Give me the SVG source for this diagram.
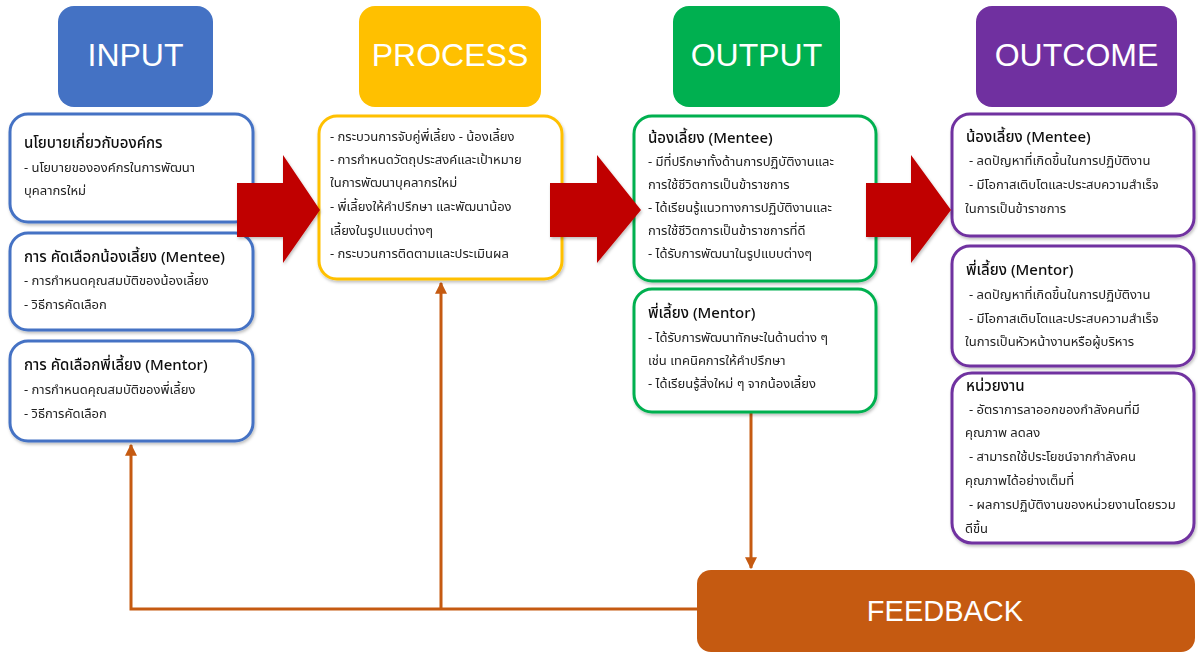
<svg xmlns="http://www.w3.org/2000/svg" width="1198" height="652" viewBox="0 0 1198 652">
<style>
.hdr{font-family:"Liberation Sans",Arial,sans-serif;font-size:32px;fill:#fff;text-anchor:middle}
.box{fill:#fff;stroke-width:3}
.t{font-family:"Noto Sans Thai","Tahoma","Noto Sans","DejaVu Sans",sans-serif;font-size:13px;fill:#222}
.h{font-family:"Noto Sans Thai","Tahoma","Noto Sans","DejaVu Sans",sans-serif;font-size:15px;fill:#111;font-weight:500}
.con{fill:none;stroke:#C55A11;stroke-width:3}
.red{fill:#C00000}
</style>
<defs>
<marker id="ah" viewBox="0 0 10 10" refX="9" refY="5" markerWidth="4" markerHeight="4" orient="auto" markerUnits="strokeWidth">
<path d="M0,0 L10,5 L0,10 Z" fill="#C55A11"/>
</marker>
<filter id="sh" x="-10%" y="-10%" width="120%" height="120%">
<feDropShadow dx="1" dy="2" stdDeviation="1.5" flood-color="#000" flood-opacity="0.25"/>
</filter>
</defs>

<g id="connectors">
<path class="con" d="M751,412 V568" marker-end="url(#ah)"/>
<path class="con" d="M697,609 H131 V445" marker-end="url(#ah)"/>
<path class="con" d="M441,609 V283" marker-end="url(#ah)"/>
</g>

<g id="hdr-input"><rect x="58" y="6" width="155" height="101" rx="16" fill="#4472C4"/><text class="hdr" x="135.5" y="66">INPUT</text></g>
<g id="hdr-process"><rect x="359" y="6" width="182" height="101" rx="16" fill="#FFC000"/><text class="hdr" x="450" y="66">PROCESS</text></g>
<g id="hdr-output"><rect x="673" y="6" width="167" height="101" rx="16" fill="#00B050"/><text class="hdr" x="756.5" y="66">OUTPUT</text></g>
<g id="hdr-outcome"><rect x="976" y="6" width="201" height="101" rx="16" fill="#7030A0"/><text class="hdr" x="1076.5" y="66">OUTCOME</text></g>

<g id="in-policy" filter="url(#sh)"><rect class="box" x="10" y="114" width="243" height="108" rx="18" stroke="#4472C4"/>
<text class="h" x="24" y="148">นโยบายเกี่ยวกับองค์กร</text>
<text class="t" x="24" y="172">- นโยบายขององค์กรในการพัฒนา</text>
<text class="t" x="24" y="195">บุคลากรใหม่</text></g>

<g id="in-mentee" filter="url(#sh)"><rect class="box" x="10" y="233" width="243" height="97" rx="18" stroke="#4472C4"/>
<text class="h" x="24" y="262">การ คัดเลือกน้องเลี้ยง (Mentee)</text>
<text class="t" x="24" y="285">- การกำหนดคุณสมบัติของน้องเลี้ยง</text>
<text class="t" x="24" y="309">- วิธีการคัดเลือก</text></g>

<g id="in-mentor" filter="url(#sh)"><rect class="box" x="10" y="341" width="243" height="100" rx="18" stroke="#4472C4"/>
<text class="h" x="24" y="370">การ คัดเลือกพี่เลี้ยง (Mentor)</text>
<text class="t" x="24" y="394">- การกำหนดคุณสมบัติของพี่เลี้ยง</text>
<text class="t" x="24" y="418">- วิธีการคัดเลือก</text></g>

<g id="process" filter="url(#sh)"><rect class="box" x="319" y="116" width="243" height="163" rx="18" stroke="#FFC000"/>
<text class="t" x="330" y="141">- กระบวนการจับคู่พี่เลี้ยง - น้องเลี้ยง</text>
<text class="t" x="330" y="164">- การกำหนดวัตถุประสงค์และเป้าหมาย</text>
<text class="t" x="330" y="187">ในการพัฒนาบุคลากรใหม่</text>
<text class="t" x="330" y="211">- พี่เลี้ยงให้คำปรึกษา และพัฒนาน้อง</text>
<text class="t" x="330" y="235">เลี้ยงในรูปแบบต่างๆ</text>
<text class="t" x="330" y="258">- กระบวนการติดตามและประเมินผล</text></g>

<g id="out-mentee" filter="url(#sh)"><rect class="box" x="634" y="116" width="242" height="165" rx="18" stroke="#00B050"/>
<text class="h" x="648" y="143">น้องเลี้ยง (Mentee)</text>
<text class="t" x="648" y="166">- มีที่ปรึกษาทั้งด้านการปฏิบัติงานและ</text>
<text class="t" x="648" y="189">การใช้ชีวิตการเป็นข้าราชการ</text>
<text class="t" x="648" y="212">- ได้เรียนรู้แนวทางการปฏิบัติงานและ</text>
<text class="t" x="648" y="235">การใช้ชีวิตการเป็นข้าราชการที่ดี</text>
<text class="t" x="648" y="258">- ได้รับการพัฒนาในรูปแบบต่างๆ</text></g>

<g id="out-mentor" filter="url(#sh)"><rect class="box" x="634" y="289" width="242" height="123" rx="18" stroke="#00B050"/>
<text class="h" x="648" y="318">พี่เลี้ยง (Mentor)</text>
<text class="t" x="648" y="342">- ได้รับการพัฒนาทักษะในด้านต่าง ๆ</text>
<text class="t" x="648" y="365">เช่น เทคนิคการให้คำปรึกษา</text>
<text class="t" x="648" y="388">- ได้เรียนรู้สิ่งใหม่ ๆ จากน้องเลี้ยง</text></g>

<g id="oc-mentee" filter="url(#sh)"><rect class="box" x="952" y="114" width="242" height="122" rx="18" stroke="#7030A0"/>
<text class="h" x="966" y="142">น้องเลี้ยง (Mentee)</text>
<text class="t" x="969" y="165">- ลดปัญหาที่เกิดขึ้นในการปฏิบัติงาน</text>
<text class="t" x="969" y="189">- มีโอกาสเติบโตและประสบความสำเร็จ</text>
<text class="t" x="965" y="213">ในการเป็นข้าราชการ</text></g>

<g id="oc-mentor" filter="url(#sh)"><rect class="box" x="952" y="246" width="242" height="120" rx="18" stroke="#7030A0"/>
<text class="h" x="966" y="275">พี่เลี้ยง (Mentor)</text>
<text class="t" x="969" y="299">- ลดปัญหาที่เกิดขึ้นในการปฏิบัติงาน</text>
<text class="t" x="969" y="323">- มีโอกาสเติบโตและประสบความสำเร็จ</text>
<text class="t" x="965" y="346">ในการเป็นหัวหน้างานหรือผู้บริหาร</text></g>

<g id="oc-unit" filter="url(#sh)"><rect class="box" x="952" y="373" width="242" height="170" rx="20" stroke="#7030A0"/>
<text class="h" x="966" y="391" font-weight="bold">หน่วยงาน</text>
<text class="t" x="969" y="414">- อัตราการลาออกของกำลังคนที่มี</text>
<text class="t" x="965" y="437">คุณภาพ ลดลง</text>
<text class="t" x="969" y="461">- สามารถใช้ประโยชน์จากกำลังคน</text>
<text class="t" x="965" y="485">คุณภาพได้อย่างเต็มที่</text>
<text class="t" x="969" y="509">- ผลการปฏิบัติงานของหน่วยงานโดยรวม</text>
<text class="t" x="965" y="533">ดีขึ้น</text></g>

<g id="arrow1" filter="url(#sh)"><polygon class="red" points="237,183 283,183 283,155 320,210 283,263 283,237 237,237"/></g>
<g id="arrow2" filter="url(#sh)"><polygon class="red" points="550,183 597,183 597,155 641,210 597,263 597,237 550,237"/></g>
<g id="arrow3" filter="url(#sh)"><polygon class="red" points="866,183 911,183 911,155 951,210 911,263 911,237 866,237"/></g>

<g id="feedback"><rect x="697" y="570" width="498" height="82" rx="14" fill="#C55A11"/>
<text class="hdr" x="945" y="621" style="font-size:29px">FEEDBACK</text></g>
</svg>
